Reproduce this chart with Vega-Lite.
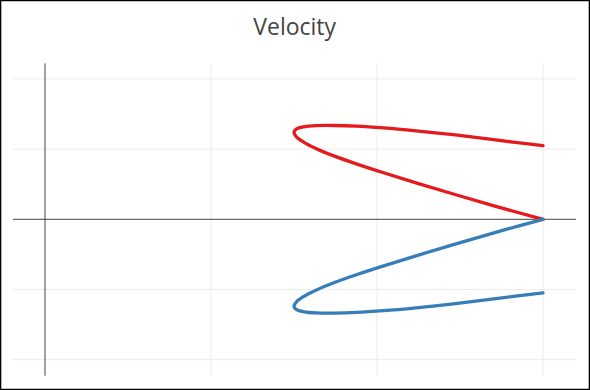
{
  "$schema": "https://vega.github.io/schema/vega-lite/v6.json",
  "width": 589,
  "height": 389,
  "autosize": "none",
  "padding": 0.5,
  "background": "white",
  "config": {
    "view": {"stroke": "#000000", "strokeWidth": 1.6, "fill": "white"},
    "font": "Open Sans"
  },
  "datasets": {
    "titles": [
      {"label": "Velocity", "x": 1.504, "y": 2.632}
    ],
    "grid": [
      {"x1": 1, "x2": 1, "y1": -2.228, "y2": 2.222},
      {"x1": 2, "x2": 2, "y1": -2.228, "y2": 2.222},
      {"x1": 3, "x2": 3, "y1": -2.228, "y2": 2.222},
      {"x1": -0.193, "x2": 3.199, "y1": 2, "y2": 2},
      {"x1": -0.193, "x2": 3.199, "y1": 1, "y2": 1},
      {"x1": -0.193, "x2": 3.199, "y1": -1, "y2": -1},
      {"x1": -0.193, "x2": 3.199, "y1": -2, "y2": -2}
    ],
    "axes": [
      {"x1": -0.193, "x2": 3.199, "y1": 0, "y2": 0},
      {"x1": 0, "x2": 0, "y1": -2.228, "y2": 2.222}
    ],
    "curves": [
      {"s": "a", "i": 0, "x": 3.0, "y": 0.0},
      {"s": "a", "i": 1, "x": 2.715, "y": 0.185},
      {"s": "a", "i": 2, "x": 2.46, "y": 0.36},
      {"s": "a", "i": 3, "x": 2.235, "y": 0.52},
      {"s": "a", "i": 4, "x": 2.04, "y": 0.663},
      {"s": "a", "i": 5, "x": 1.875, "y": 0.79},
      {"s": "a", "i": 6, "x": 1.74, "y": 0.903},
      {"s": "a", "i": 7, "x": 1.635, "y": 1.006},
      {"s": "a", "i": 8, "x": 1.56, "y": 1.097},
      {"s": "a", "i": 9, "x": 1.515, "y": 1.175},
      {"s": "a", "i": 10, "x": 1.5, "y": 1.239},
      {"s": "a", "i": 11, "x": 1.515, "y": 1.287},
      {"s": "a", "i": 12, "x": 1.56, "y": 1.318},
      {"s": "a", "i": 13, "x": 1.635, "y": 1.334},
      {"s": "a", "i": 14, "x": 1.74, "y": 1.336},
      {"s": "a", "i": 15, "x": 1.875, "y": 1.327},
      {"s": "a", "i": 16, "x": 2.04, "y": 1.302},
      {"s": "a", "i": 17, "x": 2.235, "y": 1.261},
      {"s": "a", "i": 18, "x": 2.46, "y": 1.205},
      {"s": "a", "i": 19, "x": 2.715, "y": 1.13},
      {"s": "a", "i": 20, "x": 3.0, "y": 1.048},
      {"s": "b", "i": 0, "x": 3.0, "y": 0.0},
      {"s": "b", "i": 1, "x": 2.715, "y": -0.185},
      {"s": "b", "i": 2, "x": 2.46, "y": -0.36},
      {"s": "b", "i": 3, "x": 2.235, "y": -0.52},
      {"s": "b", "i": 4, "x": 2.04, "y": -0.663},
      {"s": "b", "i": 5, "x": 1.875, "y": -0.79},
      {"s": "b", "i": 6, "x": 1.74, "y": -0.903},
      {"s": "b", "i": 7, "x": 1.635, "y": -1.006},
      {"s": "b", "i": 8, "x": 1.56, "y": -1.097},
      {"s": "b", "i": 9, "x": 1.515, "y": -1.175},
      {"s": "b", "i": 10, "x": 1.5, "y": -1.239},
      {"s": "b", "i": 11, "x": 1.515, "y": -1.287},
      {"s": "b", "i": 12, "x": 1.56, "y": -1.318},
      {"s": "b", "i": 13, "x": 1.635, "y": -1.334},
      {"s": "b", "i": 14, "x": 1.74, "y": -1.336},
      {"s": "b", "i": 15, "x": 1.875, "y": -1.327},
      {"s": "b", "i": 16, "x": 2.04, "y": -1.302},
      {"s": "b", "i": 17, "x": 2.235, "y": -1.261},
      {"s": "b", "i": 18, "x": 2.46, "y": -1.205},
      {"s": "b", "i": 19, "x": 2.715, "y": -1.13},
      {"s": "b", "i": 20, "x": 3.0, "y": -1.048}
    ]
  },
  "layer": [
    {
      "data": {"name": "grid"},
      "mark": {"type": "rule", "color": "#ebebeb", "strokeWidth": 1},
      "encoding": {
        "x": {"field": "x1", "type": "quantitative", "scale": {"domain": [-0.2681, 3.2801], "nice": false, "zero": false}, "axis": null},
        "x2": {"field": "x2"},
        "y": {"field": "y1", "type": "quantitative", "scale": {"domain": [-2.4245, 3.1168], "nice": false, "zero": false}, "axis": null},
        "y2": {"field": "y2"}
      }
    },
    {
      "data": {"name": "axes"},
      "mark": {"type": "rule", "color": "#444444", "strokeWidth": 1},
      "encoding": {
        "x": {"field": "x1", "type": "quantitative", "scale": {"domain": [-0.2681, 3.2801], "nice": false, "zero": false}, "axis": null},
        "x2": {"field": "x2"},
        "y": {"field": "y1", "type": "quantitative", "scale": {"domain": [-2.4245, 3.1168], "nice": false, "zero": false}, "axis": null},
        "y2": {"field": "y2"}
      }
    },
    {
      "data": {"name": "curves"},
      "mark": {"type": "line", "strokeWidth": 3.3, "interpolate": "catmull-rom", "strokeCap": "round", "strokeJoin": "round"},
      "encoding": {
        "x": {"field": "x", "type": "quantitative", "scale": {"domain": [-0.2681, 3.2801], "nice": false, "zero": false}, "axis": null},
        "y": {"field": "y", "type": "quantitative", "scale": {"domain": [-2.4245, 3.1168], "nice": false, "zero": false}, "axis": null},
        "order": {"field": "i", "type": "quantitative"},
        "color": {"field": "s", "type": "nominal", "scale": {"domain": ["a", "b"], "range": ["#e41a1c", "#377eb8"]}, "legend": null}
      }
    },
    {
      "data": {"name": "titles"},
      "mark": {"type": "text", "align": "center", "baseline": "alphabetic", "fontSize": 23, "font": "Open Sans", "color": "#444444"},
      "encoding": {
        "x": {"field": "x", "type": "quantitative", "scale": {"domain": [-0.2681, 3.2801], "nice": false, "zero": false}, "axis": null},
        "y": {"field": "y", "type": "quantitative", "scale": {"domain": [-2.4245, 3.1168], "nice": false, "zero": false}, "axis": null},
        "text": {"field": "label", "type": "nominal"}
      }
    }
  ]
}
